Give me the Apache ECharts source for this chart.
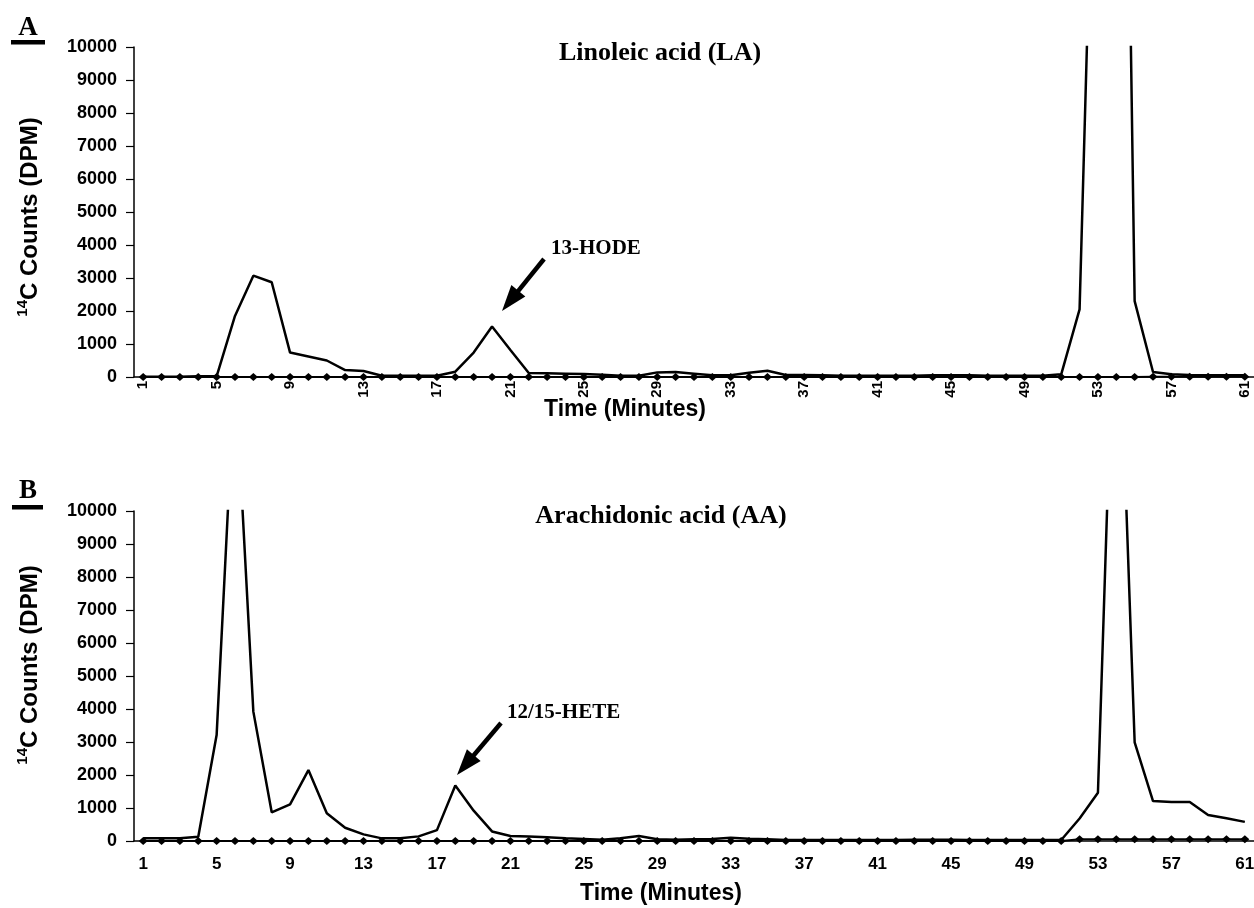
<!DOCTYPE html>
<html>
<head>
<meta charset="utf-8">
<script src="https://cdn.jsdelivr.net/npm/echarts@6/dist/echarts.min.js"></script>
<style>
html,body{margin:0;padding:0;background:#fff;}
#main{width:1254px;height:908px;}
</style>
</head>
<body>
<div id="main"></div>
<script>
// time axis (minutes)
var minutes = ['1','2','3','4','5','6','7','8','9','10','11','12','13','14','15','16','17','18','19','20',
    '21','22','23','24','25','26','27','28','29','30','31','32','33','34','35','36','37','38','39','40',
    '41','42','43','44','45','46','47','48','49','50','51','52','53','54','55','56','57','58','59','60','61'];

// A - linoleic acid, 14C counts (DPM)
var laCounts = [10,10,10,20,20,1850,3070,2870,740,620,500,210,180,40,40,40,40,160,740,1530,
    820,120,110,100,90,70,40,40,140,150,100,50,50,130,190,60,60,50,40,40,
    40,40,40,50,50,50,40,40,40,40,80,2050,22000,40000,2300,150,80,60,50,50,50];
var laBlank = [0,0,0,0,0,0,0,0,0,0,0,0,0,0,0,0,0,0,0,0,
    0,0,0,0,0,0,0,0,0,0,0,0,0,0,0,0,0,0,0,0,
    0,0,0,0,0,0,0,0,0,0,0,0,0,0,0,10,10,10,10,10,10];

// B - arachidonic acid
var aaCounts = [80,80,80,130,3210,14300,3920,870,1110,2150,840,400,200,80,80,140,330,1680,920,290,
    150,140,110,80,60,40,80,150,50,40,50,60,100,70,50,30,30,30,30,30,
    30,30,40,40,40,30,30,30,30,30,30,680,1460,18700,2990,1210,1180,1180,790,690,580];
var aaBlank = [0,0,0,0,0,0,0,0,0,0,0,0,0,0,0,0,0,0,0,0,
    0,0,0,0,0,0,0,0,0,0,0,0,0,0,0,0,0,0,0,0,
    0,0,0,0,0,0,0,0,0,0,0,50,50,50,50,50,50,50,50,50,50];

var sans = 'Liberation Sans, Arial, sans-serif';
var serif = 'Liberation Serif, Times New Roman, serif';

myChart = echarts.init(document.getElementById('main'));

function xAx(idx, rot, nameGap, shift){
    return {
        type:'category', gridIndex:idx, data:minutes, boundaryGap:true,
        axisLine:{lineStyle:{color:'#000',width:1.5}},
        axisTick:{interval:0,length:5,lineStyle:{color:'#000',width:1.2}},
        axisLabel:{interval:3,rotate:rot,margin:rot?4:15,color:'#000',fontFamily:sans,fontWeight:'bold',fontSize:rot?15:17},
        name:'Time (Minutes)', nameLocation:'middle', nameGap:nameGap, nameMoveOverlap:false,
        nameTextStyle:{color:'#000',fontFamily:sans,fontWeight:'bold',fontSize:23,padding:[0,shift,0,0]}
    };
}
function yAx(idx, pad){
    return {
        type:'value', gridIndex:idx, min:0, max:10000, interval:1000,
        axisLine:{show:true,lineStyle:{color:'#000',width:1.5}},
        axisTick:{show:true,length:8,lineStyle:{color:'#000',width:1.2}},
        splitLine:{show:false},
        axisLabel:{margin:17,color:'#000',fontFamily:sans,fontWeight:'bold',fontSize:18,
            formatter:function(v){return String(v);}},
        name:'{s|14}{n|C Counts (DPM)}', nameLocation:'middle', nameGap:92, nameMoveOverlap:false,
        nameTextStyle:{color:'#000',padding:pad,rich:{
            s:{fontFamily:sans,fontWeight:'bold',fontSize:15,lineHeight:15,verticalAlign:'top',color:'#000'},
            n:{fontFamily:sans,fontWeight:'bold',fontSize:24,lineHeight:27,verticalAlign:'bottom',color:'#000'}
        }}
    };
}
function blankSeries(idx, data){
    return {type:'line', xAxisIndex:idx, yAxisIndex:idx, data:data, symbol:'diamond', symbolSize:[9,8],
        showAllSymbol:true, itemStyle:{color:'#000'}, lineStyle:{color:'#000',width:2}, z:2};
}
function countSeries(idx, data){
    return {type:'line', xAxisIndex:idx, yAxisIndex:idx, data:data, showSymbol:false, symbol:'none',
        lineStyle:{color:'#000',width:2.5}, z:3};
}
// arrow annotation: shaft + head
function arrow(x1,y1,x2,y2){
    var dx=x2-x1, dy=y2-y1, L=Math.sqrt(dx*dx+dy*dy), ux=dx/L, uy=dy/L;
    var hl=26, hw=9;
    var bx=x2-ux*hl, by=y2-uy*hl;
    return [
        {type:'line',shape:{x1:x1,y1:y1,x2:bx+ux*2,y2:by+uy*2},style:{stroke:'#000',lineWidth:4.5}},
        {type:'polygon',shape:{points:[[x2,y2],[bx-uy*hw,by+ux*hw],[bx+uy*hw,by-ux*hw]]},style:{fill:'#000'}}
    ];
}
function txt(x,y,s,font,align){
    return {type:'text',x:x,y:y,style:{text:s,font:font,fill:'#000',align:align||'center',verticalAlign:'middle'}};
}

var graphics = [
    txt(28,28,'A','bold 27px '+serif),
    {type:'rect',shape:{x:11,y:40,width:34,height:4.5},style:{fill:'#000'}},
    txt(28,491,'B','bold 27px '+serif),
    {type:'rect',shape:{x:12,y:505,width:31,height:4.5},style:{fill:'#000'}},
    txt(660,53,'Linoleic acid (LA)','bold 26px '+serif),
    txt(661,516,'Arachidonic acid (AA)','bold 26px '+serif),
    txt(551,249,'13-HODE','bold 21px '+serif,'left'),
    txt(507,713,'12/15-HETE','bold 21px '+serif,'left')
].concat(arrow(544,259,502,311)).concat(arrow(501,723,457,775));

option = {
    animation:false,
    backgroundColor:'#fff',
    grid:[
        {left:134,top:47,width:1120,height:330,outerBoundsMode:'none'},
        {left:134,top:511,width:1120,height:330,outerBoundsMode:'none'}
    ],
    xAxis:[xAx(0,90,21,138), xAx(1,0,41,66)],
    yAxis:[yAx(0,[0,10,0,0]), yAx(1,[0,0,0,22])],
    series:[
        blankSeries(0,laBlank), countSeries(0,laCounts),
        blankSeries(1,aaBlank), countSeries(1,aaCounts)
    ],
    graphic:graphics
};
myChart.setOption(option);
</script>
</body>
</html>
